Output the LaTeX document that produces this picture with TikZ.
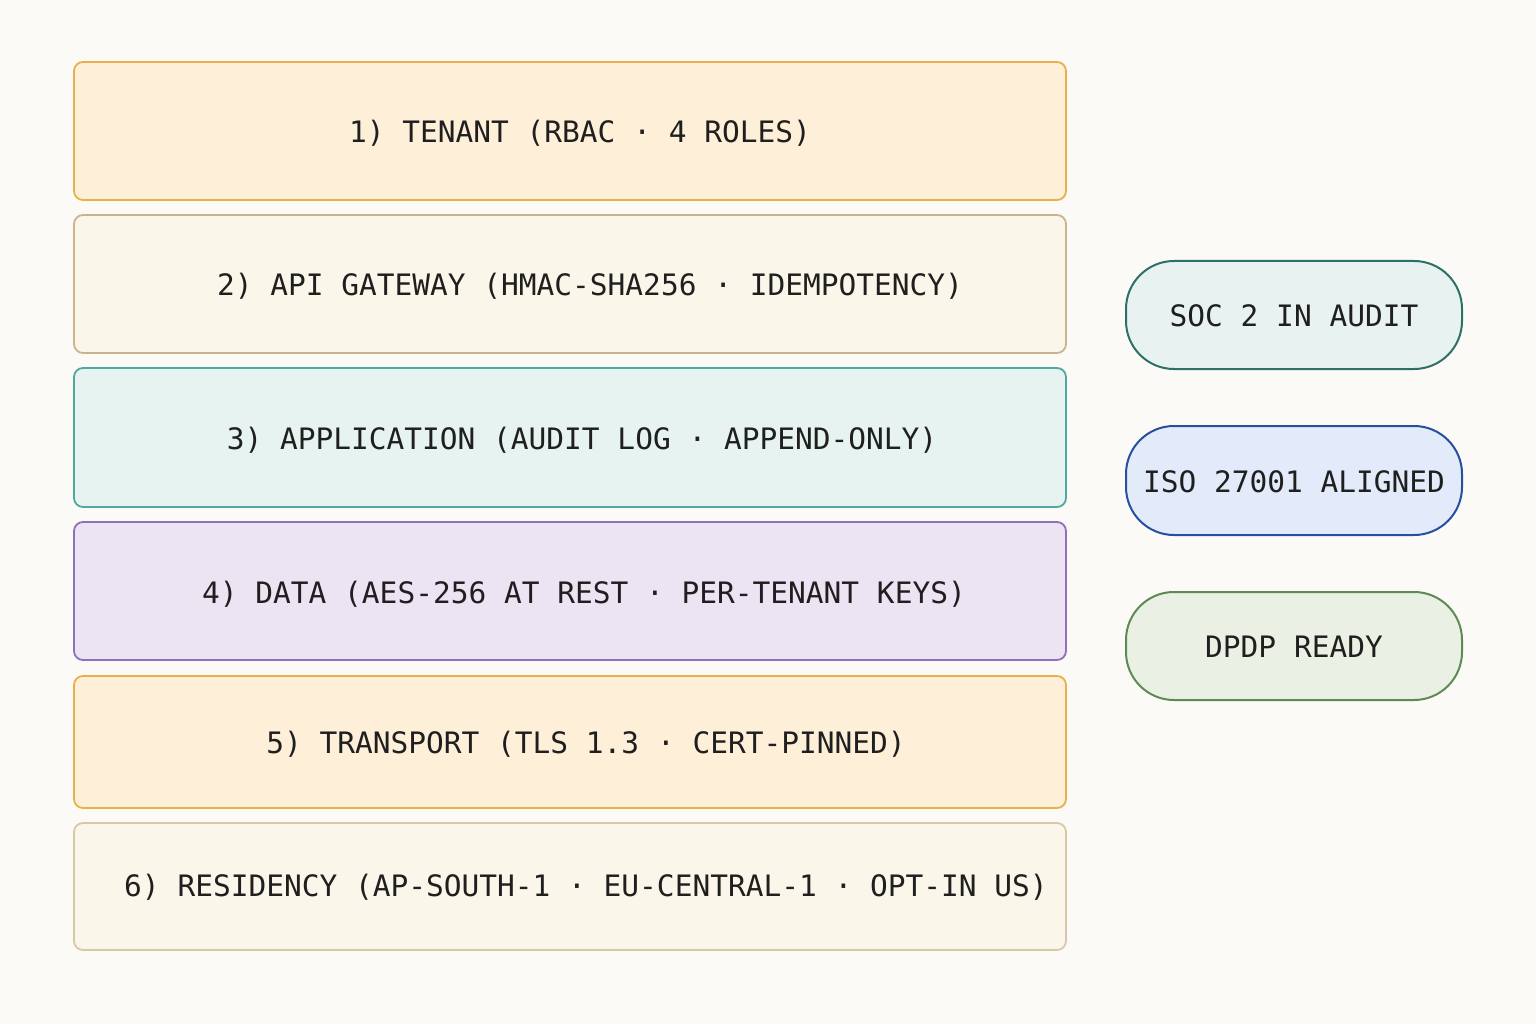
\documentclass[tikz,border=0pt]{standalone}
\usepackage{fontspec}
\setmonofont{DejaVu Sans Mono}
\begin{document}
\begin{tikzpicture}[x=1pt,y=-1pt,
 layer/.style={draw=#1,line width=1.8pt,rounded corners=9pt},
 lbl/.style={font=\ttfamily\fontsize{29.5}{32}\selectfont,text=black!88},
 pill/.style={draw=#1,line width=2pt,rounded corners=48pt}]
\definecolor{bg}{HTML}{FCFAF6}
\definecolor{fa}{HTML}{FEF0D8}\definecolor{ba}{HTML}{E8B04A}
\definecolor{fb}{HTML}{FBF6EA}\definecolor{bb}{HTML}{C9B48F}
\definecolor{fc}{HTML}{E6F3F0}\definecolor{bc}{HTML}{4FA9A0}
\definecolor{fd}{HTML}{ECE3F3}\definecolor{bd}{HTML}{9070B8}
\definecolor{bf}{HTML}{D8C8A8}
\definecolor{p1f}{HTML}{E8F3F1}\definecolor{p1b}{HTML}{2F7066}
\definecolor{p2f}{HTML}{E3EBFA}\definecolor{p2b}{HTML}{2550A0}
\definecolor{p3f}{HTML}{EAF1E4}\definecolor{p3b}{HTML}{5E8A55}
\fill[bg] (0,0) rectangle (1536,1024);
\useasboundingbox (0,0) rectangle (1536,1024);
\path[layer=ba,fill=fa] (74,62) rectangle (1066,200);
\path[layer=bb,fill=fb] (74,215) rectangle (1066,353);
\path[layer=bc,fill=fc] (74,368) rectangle (1066,507);
\path[layer=bd,fill=fd] (74,522) rectangle (1066,660);
\path[layer=ba,fill=fa] (74,676) rectangle (1066,808);
\path[layer=bf,fill=fb] (74,823) rectangle (1066,950);
\node[lbl] (l1) at (580,133) {1) TENANT (RBAC · 4 ROLES)};
\node[lbl] (l2) at (590,286) {2) API GATEWAY (HMAC-SHA256 · IDEMPOTENCY)};
\node[lbl] (l3) at (582,440) {3) APPLICATION (AUDIT LOG · APPEND-ONLY)};
\node[lbl] (l4) at (584,594) {4) DATA (AES-256 AT REST · PER-TENANT KEYS)};
\node[lbl] (l5) at (586,744) {5) TRANSPORT (TLS 1.3 · CERT-PINNED)};
\node[lbl] (l6) at (586,887) {6) RESIDENCY (AP-SOUTH-1 · EU-CENTRAL-1 · OPT-IN US)};
\path[pill=p1b,fill=p1f] (1126,261) rectangle (1462,369);
\path[pill=p2b,fill=p2f] (1126,426) rectangle (1462,535);
\path[pill=p3b,fill=p3f] (1126,592) rectangle (1462,700);
\node[lbl] (s1) at (1294,316) {SOC 2 IN AUDIT};
\node[lbl] (s2) at (1294,482) {ISO 27001 ALIGNED};
\node[lbl] (s3) at (1294,647) {DPDP READY};
\end{tikzpicture}
\end{document}
